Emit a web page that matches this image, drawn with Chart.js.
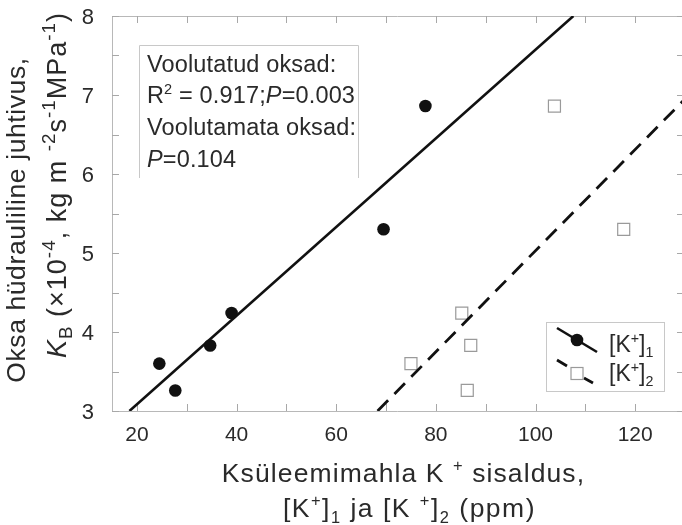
<!DOCTYPE html>
<html>
<head>
<meta charset="utf-8">
<script src="https://cdn.jsdelivr.net/npm/chart.js@4/dist/chart.umd.min.js"></script>
<style>
  html, body { margin: 0; padding: 0; background: #ffffff; }
  #wrap { width: 682px; height: 525px; }
</style>
</head>
<body>
<div id="wrap"><canvas id="c" width="682" height="525"></canvas></div>
<script>
// ---- data ----
const kbValues = [3.60, 3.26, 3.83, 4.24, 5.30, 6.86];      // K_B (x10^-4)
const k1Values = [24.5, 27.7, 34.7, 39.0, 69.5, 77.9];      // [K+]1 (ppm)
const k2Values = [75.0, 86.3, 87.0, 85.2, 117.7, 103.8];    // [K+]2 (ppm)
const fit1X = [18.5, 107.6];
const fit1Y = [3, 8];
const fit2X = [68.3, 130];
const fit2Y = [3, 6.95];
const xMajorTicks = [20, 40, 60, 80, 100, 120];
const xMinorTicks = [30, 50, 70, 90, 110, 130];
const yMajorTicks = [3, 4, 5, 6, 7, 8];
const yMinorTicks = [3.5, 4.5, 5.5, 6.5, 7.5];

// ---- texts ----
const yTitle1 = [{t: 'Oksa hüdrauliline juhtivus,'}];
const yTitle2 = [{t: 'K', it: true}, {t: 'B', sub: true}, {t: ' (×10'}, {t: '-4', sup: true}, {t: ', kg m '},
                 {t: '-2', sup: true}, {t: 's'}, {t: '-1', sup: true}, {t: 'MPa'}, {t: '-1', sup: true}, {t: ')'}];
const xTitle1 = [{t: 'Ksüleemimahla K '}, {t: '+', sup: true}, {t: ' sisaldus,'}];
const xTitle2 = [{t: '[K'}, {t: '+', sup: true}, {t: ']'}, {t: '1', sub: true}, {t: ' ja [K '}, {t: '+', sup: true},
                 {t: ']'}, {t: '2', sub: true}, {t: ' (ppm)'}];
const noteLines = [
  [{t: 'Voolutatud oksad:'}],
  [{t: 'R'}, {t: '2', sup: true}, {t: ' = 0.917;'}, {t: 'P', it: true}, {t: '=0.003'}],
  [{t: 'Voolutamata oksad:'}],
  [{t: 'P', it: true}, {t: '=0.104'}]
];
const legendLabels = [
  [{t: '[K'}, {t: '+', sup: true}, {t: ']'}, {t: '1', sub: true}],
  [{t: '[K'}, {t: '+', sup: true}, {t: ']'}, {t: '2', sub: true}]
];

const FAMILY = '"Liberation Sans", Arial, Helvetica, sans-serif';
const TEXT = '#2a2a2a';
const AXIS = '#b8b8b8';

function segFont(s, size, ss) {
  const sz = (s.sup || s.sub) ? size * ss : size;
  return (s.it ? 'italic ' : '') + sz + 'px ' + FAMILY;
}
function richWidth(ctx, segs, size, ss) {
  let w = 0;
  for (const s of segs) { ctx.font = segFont(s, size, ss); w += ctx.measureText(s.t).width; }
  return w;
}
function drawRich(ctx, segs, x, y, size, align, spacing, ss) {
  ss = ss || 0.62;
  ctx.letterSpacing = (spacing || 0) + 'px';
  let cx = align === 'center' ? x - richWidth(ctx, segs, size, ss) / 2 : x;
  ctx.textAlign = 'left';
  ctx.textBaseline = 'alphabetic';
  for (const s of segs) {
    ctx.font = segFont(s, size, ss);
    const dy = s.sup ? -size * 0.40 : (s.sub ? size * 0.22 : 0);
    ctx.fillText(s.t, cx, y + dy);
    cx += ctx.measureText(s.t).width;
  }
  ctx.letterSpacing = '0px';
}

const decorPlugin = {
  id: 'decor',
  beforeDatasetsDraw(chart) {
    const ctx = chart.ctx, a = chart.chartArea;
    const xs = chart.scales.x, ys = chart.scales.y;
    const xR = xs.getPixelForValue(130);
    ctx.save();
    ctx.strokeStyle = AXIS;
    ctx.lineWidth = 1;
    ctx.beginPath();
    ctx.moveTo(a.left + 0.5, a.top + 0.5); ctx.lineTo(xR, a.top + 0.5);
    ctx.moveTo(a.left + 0.5, a.top + 0.5); ctx.lineTo(a.left + 0.5, a.bottom + 0.5);
    ctx.moveTo(a.left + 0.5, a.bottom + 0.5); ctx.lineTo(xR, a.bottom + 0.5);
    ctx.moveTo(xR, a.top); ctx.lineTo(xR, a.bottom);
    ctx.stroke();
    const tl = 7;
    ctx.strokeStyle = '#a8a8a8';
    ctx.beginPath();
    for (const v of xMajorTicks.concat(xMinorTicks)) {
      const px = Math.round(xs.getPixelForValue(v)) + 0.5;
      ctx.moveTo(px, a.bottom); ctx.lineTo(px, a.bottom - tl);
      ctx.moveTo(px, a.top); ctx.lineTo(px, a.top + tl);
    }
    for (const v of yMajorTicks.concat(yMinorTicks)) {
      const py = Math.round(ys.getPixelForValue(v)) + 0.5;
      ctx.moveTo(a.left, py); ctx.lineTo(a.left + tl, py);
      ctx.moveTo(xR, py); ctx.lineTo(xR - tl - 1, py);
    }
    ctx.stroke();
    ctx.restore();
  },
  afterDraw(chart) {
    const ctx = chart.ctx;
    ctx.save();
    ctx.fillStyle = TEXT;
    // axis titles
    drawRich(ctx, xTitle1, 403.5, 482, 26.5, 'center', 1.1, 0.62);
    drawRich(ctx, xTitle2, 409.5, 517, 26.5, 'center', 1.5, 0.62);
    ctx.save(); ctx.translate(25, 220); ctx.rotate(-Math.PI / 2);
    drawRich(ctx, yTitle1, 0, 0, 26.5, 'center', 0.6, 0.62); ctx.restore();
    ctx.save(); ctx.translate(66, 185); ctx.rotate(-Math.PI / 2);
    drawRich(ctx, yTitle2, 0, 0, 27, 'center', 1.0, 0.7); ctx.restore();

    // annotation box (no bottom edge)
    ctx.strokeStyle = '#c8c8c8'; ctx.lineWidth = 1;
    ctx.beginPath();
    ctx.moveTo(139.5, 178); ctx.lineTo(139.5, 45.5); ctx.lineTo(358.5, 45.5); ctx.lineTo(358.5, 178);
    ctx.stroke();
    const base = [72, 103, 135, 167];
    ctx.fillStyle = TEXT;
    noteLines.forEach((ln, i) => drawRich(ctx, ln, 147, base[i], 23.5, 'left', 0.15, 0.62));

    // legend
    ctx.strokeStyle = '#c8c8c8'; ctx.lineWidth = 1;
    ctx.strokeRect(546.5, 322.5, 118, 69);
    const d1 = chart.data.datasets[0], d2 = chart.data.datasets[1];
    const p1 = chart.data.datasets[2], p2 = chart.data.datasets[3];
    ctx.strokeStyle = d1.borderColor; ctx.lineWidth = d1.borderWidth;
    ctx.beginPath(); ctx.moveTo(557, 328); ctx.lineTo(597, 352); ctx.stroke();
    ctx.fillStyle = p1.backgroundColor;
    ctx.beginPath(); ctx.arc(577, 340, p1.pointRadius, 0, Math.PI * 2); ctx.fill();
    ctx.strokeStyle = d2.borderColor; ctx.lineWidth = d2.borderWidth;
    ctx.beginPath(); ctx.moveTo(557, 360); ctx.lineTo(567, 366);
    ctx.moveTo(584, 378); ctx.lineTo(593, 383); ctx.stroke();
    ctx.strokeStyle = p2.borderColor; ctx.lineWidth = p2.borderWidth;
    ctx.strokeRect(571, 367.5, 12, 12);
    ctx.fillStyle = TEXT;
    drawRich(ctx, legendLabels[0], 609, 352, 23, 'left', 0, 0.62);
    drawRich(ctx, legendLabels[1], 609, 381, 23, 'left', 0, 0.62);
    ctx.restore();
  }
};

new Chart(document.getElementById('c'), {
  type: 'scatter',
  data: {
    datasets: [
      { type: 'line', label: 'fit1', data: fit1X.map((x, i) => ({x, y: fit1Y[i]})),
        borderColor: '#111111', borderWidth: 2.6, pointRadius: 0, fill: false, tension: 0 },
      { type: 'line', label: 'fit2', data: fit2X.map((x, i) => ({x, y: fit2Y[i]})),
        borderColor: '#111111', borderWidth: 2.8, borderDash: [15, 9], pointRadius: 0, fill: false, tension: 0 },
      { label: '[K+]1', data: k1Values.map((x, i) => ({x, y: kbValues[i]})),
        pointRadius: 6.3, backgroundColor: '#111111', borderColor: '#111111', borderWidth: 0 },
      { label: '[K+]2', data: k2Values.map((x, i) => ({x, y: kbValues[i]})),
        pointStyle: 'rect', pointRadius: 8.5, backgroundColor: 'rgba(255,255,255,0)', borderColor: '#9a9a9a', borderWidth: 1.2 }
    ]
  },
  options: {
    responsive: false,
    animation: false,
    events: [],
    layout: { autoPadding: false, padding: { top: 16, right: 0, left: 0, bottom: 0 } },
    plugins: { legend: { display: false }, tooltip: { enabled: false } },
    scales: {
      x: {
        type: 'linear', min: 15, max: 129.4,
        afterFit(s) { s.height = 114; s.paddingLeft = 0; s.paddingRight = 0; },
        afterBuildTicks(s) { s.ticks = xMajorTicks.map(v => ({value: v})); },
        grid: { display: false }, border: { display: false },
        ticks: { font: { family: FAMILY, size: 21 }, color: TEXT, padding: 4, maxRotation: 0, autoSkip: false }
      },
      y: {
        type: 'linear', min: 3, max: 8,
        afterFit(s) { s.width = 112; s.paddingTop = 0; s.paddingBottom = 0; },
        afterBuildTicks(s) { s.ticks = yMajorTicks.map(v => ({value: v})); },
        grid: { display: false }, border: { display: false },
        ticks: { font: { family: FAMILY, size: 22 }, color: TEXT, padding: 10, labelOffset: 2 }
      }
    }
  },
  plugins: [decorPlugin]
});
</script>
</body>
</html>
